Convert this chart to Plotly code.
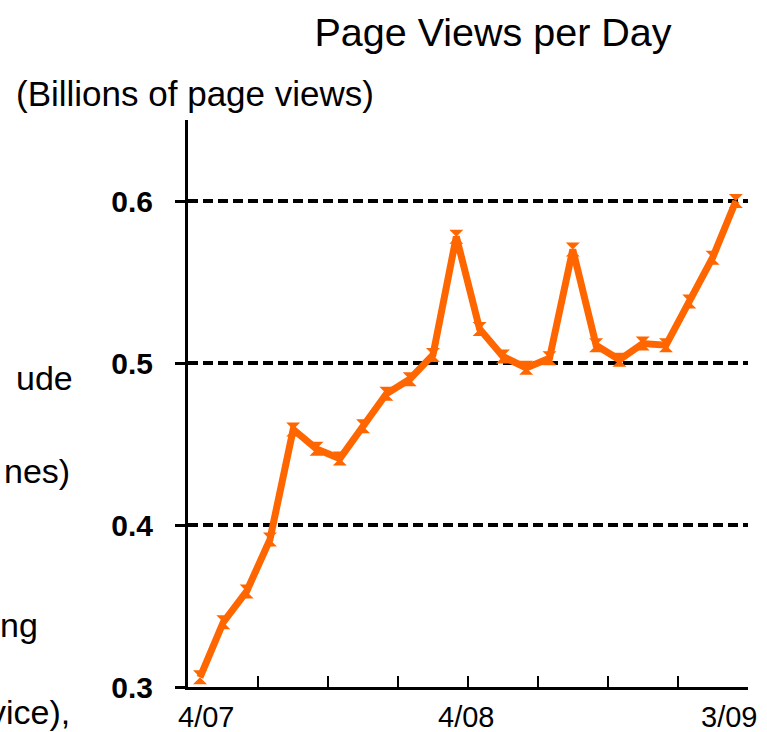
import plotly.graph_objects as go

# Data: monthly page views (billions), April 2007 - March 2009
months = ["4/07", "5/07", "6/07", "7/07", "8/07", "9/07", "10/07", "11/07", "12/07",
          "1/08", "2/08", "3/08", "4/08", "5/08", "6/08", "7/08", "8/08", "9/08",
          "10/08", "11/08", "12/08", "1/09", "2/09", "3/09"]
page_views = [0.306, 0.340, 0.359, 0.391, 0.459, 0.447, 0.441, 0.461, 0.481,
              0.490, 0.505, 0.578, 0.521, 0.504, 0.497, 0.503, 0.570, 0.511,
              0.502, 0.512, 0.511, 0.538, 0.565, 0.600]
y_ticks = [0.3, 0.4, 0.5, 0.6]
y_tick_labels = ["0.3", "0.4", "0.5", "0.6"]
x_labels = ["4/07", "4/08", "3/09"]
x_label_pos = [0.26, 11.4, 22.7]
side_text = ["ude", "nes)", "ng", "vice),"]

W, H = 767, 732
ML, MR, MT, MB = 188, 19, 120, 45
PW, PH = W - ML - MR, H - MT - MB
FONT = "Arial, Liberation Sans, sans-serif"

def px_x(px):
    return (px - ML) / PW

def px_y(py):
    return (H - MB - py) / PH

x_idx = list(range(len(page_views)))

fig = go.Figure()
fig.add_trace(go.Scatter(
    x=x_idx, y=page_views, mode="lines+markers",
    line=dict(color="#FF6600", width=7),
    marker=dict(symbol="hourglass", size=14, color="#FF6600"),
    text=months, hoverinfo="text+y", showlegend=False,
))

annotations = []
# x-axis labels
for lab, pos in zip(x_labels, x_label_pos):
    annotations.append(dict(text=lab, x=pos, xref="x", y=px_y(717), yref="paper",
                            xanchor="center", yanchor="middle", showarrow=False,
                            font=dict(family=FONT, size=29, color="black")))
# subtitle
annotations.append(dict(text="(Billions of page views)", x=px_x(195), xref="paper",
                        y=px_y(94), yref="paper", xanchor="center", yanchor="middle",
                        showarrow=False, font=dict(family=FONT, size=35, color="black")))
# cropped side text fragments from slide
side_pos = [(75, 378), (72, 471), (40, 625), (72, 712)]
for t, (sx, sy) in zip(side_text, side_pos):
    annotations.append(dict(text=t, x=px_x(sx), xref="paper", y=px_y(sy), yref="paper",
                            xanchor="right", yanchor="middle", showarrow=False,
                            font=dict(family=FONT, size=34, color="black")))

fig.update_layout(
    width=W, height=H,
    margin=dict(l=ML, r=MR, t=MT, b=MB, pad=0),
    paper_bgcolor="white", plot_bgcolor="white",
    title=dict(text="Page Views per Day", x=493 / W, xref="container",
               y=1 - 32 / H, yref="container", xanchor="center", yanchor="middle",
               font=dict(family=FONT, size=39.5, color="black")),
    annotations=annotations,
    xaxis=dict(range=[-0.515, 23.52], showgrid=False, zeroline=False,
               showline=True, linecolor="black", linewidth=3,
               tickmode="linear", tick0=-0.5, dtick=3, ticks="inside", ticklen=11,
               tickwidth=2, tickcolor="black", showticklabels=False),
    yaxis=dict(range=[0.3, 0.65], showgrid=True, gridcolor="black", gridwidth=4,
               griddash="10px,5px", zeroline=False,
               showline=True, linecolor="black", linewidth=3,
               tickmode="array", tickvals=y_ticks, ticktext=y_tick_labels,
               ticks="outside", ticklen=10, tickwidth=3, tickcolor="black",
               ticklabelstandoff=16,
               tickfont=dict(family=FONT, size=30, color="black", weight="bold")),
    font=dict(family=FONT),
)
fig.write_html("out.html", config={"displayModeBar": False},
               post_script="document.body.style.margin='0';document.body.style.overflow='hidden';")
